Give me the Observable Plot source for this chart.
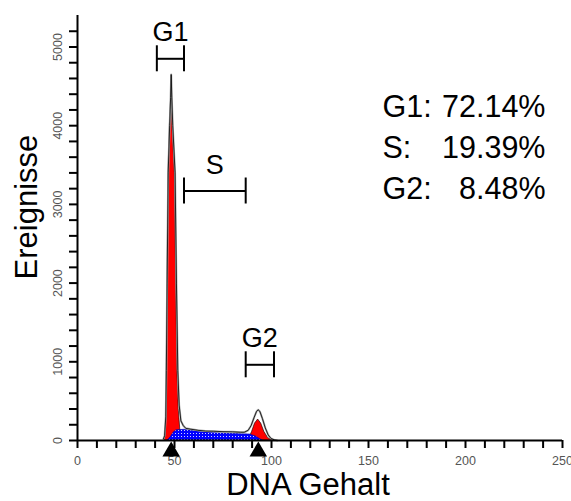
<!DOCTYPE html>
<html><head><meta charset="utf-8">
<script src="https://cdn.jsdelivr.net/npm/d3@7"></script>
<script src="https://cdn.jsdelivr.net/npm/@observablehq/plot@0.6"></script>
<style>
body{margin:0;background:#fff;}
#chart{position:relative;width:571px;height:501px;}
#chart svg{font-family:"Liberation Sans",Arial,sans-serif;}
#chart svg.ticks-layer{position:absolute;left:0;top:0;pointer-events:none;}
</style>
</head><body><div id="chart"></div>
<script>
// ---- data ----
const outlineX = [44.3, 44.9, 45.5, 45.8, 46.2, 46.75, 47.5, 48.0, 48.3, 48.6, 49.1, 50.3, 51.0, 51.7, 52.4, 53.3, 54.5, 55.8, 58, 62, 66, 70, 75, 80, 84, 86, 88, 89.5, 91, 92.3, 93.1, 94, 95.3, 96.8, 98.3, 99.8, 101.5, 103];
const outlineCounts = [20, 60, 300, 890, 2000, 3400, 4000, 4360, 4650, 4360, 4000, 3400, 2000, 890, 450, 250, 190, 155, 145, 130, 120, 118, 112, 110, 105, 105, 130, 190, 290, 370, 390, 370, 280, 160, 70, 25, 8, 0];

const g1X = [44.8, 45.4, 45.8, 46.0, 46.4, 46.9, 47.6, 48.3, 49.0, 50.2, 50.9, 51.5, 52.2, 53.2, 54.0];
const g1Counts = [0, 60, 300, 890, 2000, 3400, 4000, 4360, 4000, 3400, 2000, 890, 400, 60, 0];

const g2X = [87.5, 88.5, 90, 91.5, 93.1, 94.7, 96.3, 98.3, 100.7];
const g2Counts = [0, 25, 110, 215, 267, 215, 110, 30, 0];

const sX = [46.5, 48, 49.5, 51, 55, 60, 65, 70, 75, 80, 85, 89, 92, 94, 95.5];
const sCounts = [0, 40, 100, 130, 136, 120, 105, 95, 90, 85, 80, 76, 50, 20, 0];

const phaseNames = ["G1", "S", "G2"];
const gateStart = [40.9, 54.9, 86.7];
const gateEnd = [54.9, 86.7, 101.3];
const gateLevel = [4850, 3170, 962];
const phasePercent = ["72.14%", "19.39%", "8.48%"];
const peakMarkers = [48.3, 93.2];

const xMajorTicks = [0, 50, 100, 150, 200, 250];
const xMinorTicks = [0, 10, 20, 30, 40, 50, 60, 70, 80, 90, 100, 110, 120, 130, 140, 150, 160, 170, 180, 190, 200, 210, 220, 230, 240, 250];
const yMajorTicks = [0, 1000, 2000, 3000, 4000, 5000];
const yMinorTicks = [0, 200, 400, 600, 800, 1000, 1200, 1400, 1600, 1800, 2000, 2200, 2400, 2600, 2800, 3000, 3200, 3400, 3600, 3800, 4000, 4200, 4400, 4600, 4800, 5000, 5200];

const xLabel = "DNA Gehalt";
const yLabel = "Ereignisse";

// ---- tables ----
const outline = outlineX.map((x, i) => ({x, y: outlineCounts[i]}));
const g1 = g1X.map((x, i) => ({x, y: g1Counts[i]}));
const g2 = g2X.map((x, i) => ({x, y: g2Counts[i]}));
const sPhase = sX.map((x, i) => ({x, y: sCounts[i]}));
const gates = phaseNames.map((name, i) => ({name, start: gateStart[i], end: gateEnd[i], level: gateLevel[i]}));
const caps = gates.flatMap(g => [{x: g.start, level: g.level}, {x: g.end, level: g.level}]);

const font = "Liberation Sans, Arial, sans-serif";
const frame = {
  width: 571, height: 501,
  marginTop: 15, marginBottom: 61, marginLeft: 77, marginRight: 9
};

const annotationMarks = phaseNames.flatMap((name, i) => [
  Plot.text([name + ":"], {frameAnchor: "top-left", text: d => d, dx: 305, dy: 91.5 + i * 41.2, textAnchor: "start", lineAnchor: "middle", fontSize: 30.5, fill: "#000"}),
  Plot.text([phasePercent[i]], {frameAnchor: "top-left", text: d => d, dx: 468, dy: 91.5 + i * 41.2, textAnchor: "end", lineAnchor: "middle", fontSize: 30.5, fill: "#000"})
]);

const chart = Plot.plot({
  ...frame,
  style: {fontFamily: font, background: "white", overflow: "visible"},
  x: {domain: [0, 250]},
  y: {domain: [0, 5400]},
  marks: [
    Plot.areaY(g1, {x: "x", y: "y", fill: "#ff0000", stroke: "#000", strokeWidth: 0.6}),
    Plot.areaY(g2, {x: "x", y: "y", fill: "#ff0000", stroke: "#000", strokeWidth: 0.6}),
    Plot.areaY(sPhase, {x: "x", y: "y", fill: "url(#sPhaseDots)", stroke: "#0000aa", strokeWidth: 0.6}),
    Plot.line(outline, {x: "x", y: "y", stroke: "#a8a8a8", strokeWidth: 2}),
    Plot.line(outline, {x: "x", y: "y", stroke: "#000", strokeWidth: 0.8}),
    Plot.axisY(yMajorTicks, {tickSize: 0, tickRotate: -90, tickPadding: 16, tickFormat: d => String(d), fontSize: 12.5, fill: "#555", label: null}),
    Plot.axisX(xMajorTicks, {tickSize: 0, tickPadding: 16, tickFormat: d => String(d), fontSize: 12.5, fill: "#555", label: null}),
    Plot.dot(peakMarkers, {x: d => d, y: 0, dy: 11, symbol: "triangle", r: 6.5, fill: "#000", stroke: "none"}),
    Plot.ruleY(gates, {y: "level", x1: "start", x2: "end", stroke: "#000", strokeWidth: 2}),
    Plot.ruleX(caps, {x: "x", y1: "level", y2: "level", insetTop: -13, insetBottom: -13, stroke: "#000", strokeWidth: 2}),
    Plot.text(gates, {x: d => (d.start + d.end) / 2, y: "level", text: "name", dy: -26, fontSize: 27, fill: "#000"}),
    ...annotationMarks,
    Plot.text([yLabel], {frameAnchor: "left", text: d => d, rotate: -90, textAnchor: "middle", lineAnchor: "middle", dx: -50, dy: -21, fontSize: 31, fill: "#000"}),
    Plot.text([xLabel], {frameAnchor: "bottom", text: d => d, textAnchor: "middle", lineAnchor: "middle", dx: -12, dy: 45, fontSize: 31, fill: "#000"})
  ]
});

const defs = d3.select(chart).insert("defs", "style + *");
const pat = defs.append("pattern").attr("id", "sPhaseDots").attr("patternUnits", "userSpaceOnUse").attr("width", 3).attr("height", 3);
pat.append("rect").attr("width", 3).attr("height", 3).attr("fill", "#0000ff");
pat.append("rect").attr("x", 1).attr("y", 1).attr("width", 1).attr("height", 1).attr("fill", "#d0d0ff");

// tick marks and axis lines on a transparent layer with the same scales
const tickLayer = Plot.plot({
  ...frame,
  className: "ticks-layer",
  style: {background: "transparent", overflow: "visible"},
  x: {domain: [0, 250], axis: null},
  y: {domain: [0, 5400], axis: null},
  marks: [
    Plot.ruleY(yMinorTicks, {y: d => d, x1: 0, x2: 0, insetLeft: -8, stroke: "#000", strokeWidth: 2}),
    Plot.ruleX(xMinorTicks, {x: d => d, y1: 0, y2: 0, insetBottom: -8, stroke: "#000", strokeWidth: 2}),
    Plot.ruleX([0], {stroke: "#000", strokeWidth: 2}),
    Plot.ruleY([0], {stroke: "#000", strokeWidth: 2})
  ]
});
tickLayer.classList.add("ticks-layer");

const holder = document.getElementById("chart");
holder.appendChild(chart);
holder.appendChild(tickLayer);
</script>
</body></html>
